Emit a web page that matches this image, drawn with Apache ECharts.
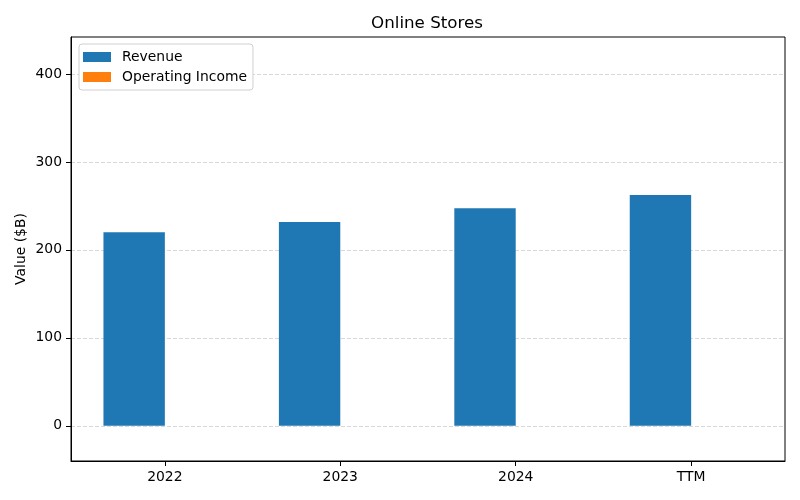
<!DOCTYPE html>
<html>
<head>
<meta charset="utf-8">
<script src="https://cdn.jsdelivr.net/npm/echarts@6/dist/echarts.min.js"></script>
<style>html,body{margin:0;padding:0;background:#fff}#c{width:800px;height:500px}</style>
</head>
<body>
<div id="c"></div>
<script>
const categories = ['2022', '2023', '2024', 'TTM'];
const revenue = [220.0, 231.8, 247.3, 262.3];
const operatingIncome = [0, 0, 0, 0];
const yTicks = [0, 100, 200, 300, 400];

const font = 'DejaVu Sans';
const idx = categories.map((c, i) => i);
const chart = echarts.init(document.getElementById('c'), null, {renderer: 'canvas'});
chart.setOption({
  animation: false,
  backgroundColor: '#fff',
  title: {
    text: 'Online Stores', left: 422, textAlign: 'center', top: 10,
    textStyle: {fontFamily: font, fontSize: 16.7, fontWeight: 'normal', color: '#000'}
  },
  legend: {
    orient: 'vertical', left: 79, top: 44,
    itemWidth: 28, itemHeight: 10, itemGap: 6,
    padding: [6, 6, 6, 4],
    borderColor: '#d0d0d0', borderWidth: 1, borderRadius: 3, backgroundColor: '#fff',
    textStyle: {fontFamily: font, fontSize: 13.9, color: '#000', padding: [0, 0, 0, 6]},
    icon: 'rect',
    data: ['Revenue', 'Operating Income']
  },
  grid: {left: 71, right: 15, top: 37, bottom: 39, show: true, borderColor: '#000', borderWidth: 1, backgroundColor: 'transparent'},
  xAxis: {
    type: 'value', min: -0.535, max: 3.535,
    axisLine: {show: true, onZero: false, lineStyle: {color: '#000', width: 1}},
    axisTick: {show: true, customValues: idx, length: 5, lineStyle: {color: '#000'}},
    axisLabel: {customValues: idx, formatter: v => categories[Math.round(v)], fontFamily: font, fontSize: 13.9, color: '#000', margin: 9},
    splitLine: {show: false}
  },
  yAxis: {
    type: 'value', min: -40, max: 442,
    name: 'Value ($B)', nameLocation: 'middle', nameGap: 43, nameMoveOverlap: false,
    nameTextStyle: {fontFamily: font, fontSize: 13.9, color: '#000'},
    axisLine: {show: true, onZero: false, lineStyle: {color: '#000', width: 1}},
    axisTick: {show: true, customValues: yTicks, length: 5, lineStyle: {color: '#000'}},
    axisLabel: {customValues: yTicks, fontFamily: font, fontSize: 13.9, color: '#000', margin: 9},
    splitLine: {show: true, lineStyle: {color: '#d8d8d8', type: [4, 2], width: 1}}
  },
  series: [
    {name: 'Revenue', type: 'bar', barWidth: 61.4, barGap: '0%', itemStyle: {color: '#1f77b4'},
     data: revenue.map((v, i) => [idx[i], v])},
    {name: 'Operating Income', type: 'bar', barWidth: 61.4, barGap: '0%', itemStyle: {color: '#ff7f0e'},
     data: operatingIncome.map((v, i) => [idx[i], v])}
  ]
});
</script>
</body>
</html>
